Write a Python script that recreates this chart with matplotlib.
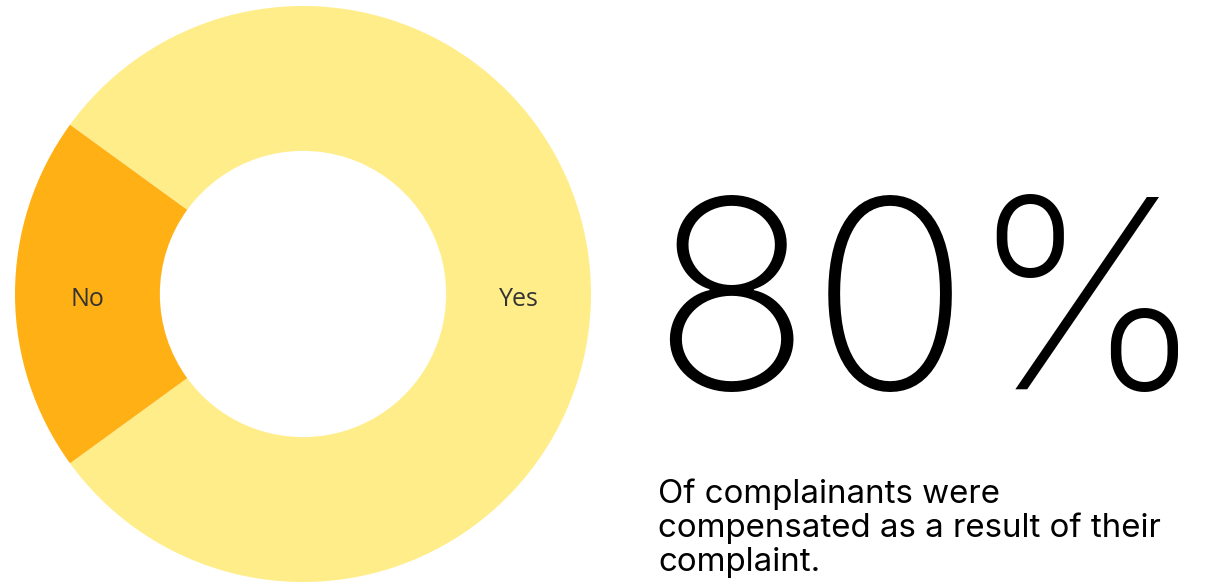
import matplotlib
matplotlib.use("Agg")
import matplotlib.pyplot as plt

labels = ["Yes", "No"]
values = [80, 20]
colors = ["#FFED8A", "#FFB014"]

headline = "80%"
caption = "Of complainants were\ncompensated as a result of their\ncomplaint."

W, H = 1211, 585
fig = plt.figure(figsize=(W / 100, H / 100), dpi=100)
fig.patch.set_facecolor("white")

# donut on the left, placed in pixel units
cx, cy, r = 303, 291, 288
ax = fig.add_axes([(cx - r) / W, (cy - r) / H, 2 * r / W, 2 * r / H])
wedges, texts = ax.pie(values, labels=labels, colors=colors, startangle=216,
                       counterclock=True, radius=1.0, labeldistance=0.75,
                       wedgeprops=dict(width=0.503, edgecolor="none"),
                       textprops=dict(fontsize=18, color="#333333",
                                      family=["Open Sans", "DejaVu Sans"]))
for t in texts:
    t.set_horizontalalignment("center")
    t.set_verticalalignment("center")
    x, y = t.get_position()
    t.set_position((x, y - 0.02))
ax.set_xlim(-1, 1)
ax.set_ylim(-1, 1)
ax.set_aspect("equal")
ax.axis("off")

fig.text(651 / W, 1 - 389 / H, headline, fontsize=190, fontweight="light",
         family=["Inter", "DejaVu Sans"], color="black",
         ha="left", va="baseline")

fig.text(658 / W, 1 - 571 / H, caption, fontsize=23.8,
         family=["Inter", "DejaVu Sans"], color="black",
         ha="left", va="baseline", linespacing=1.12)

fig.savefig("out.png", dpi=100, facecolor="white")
